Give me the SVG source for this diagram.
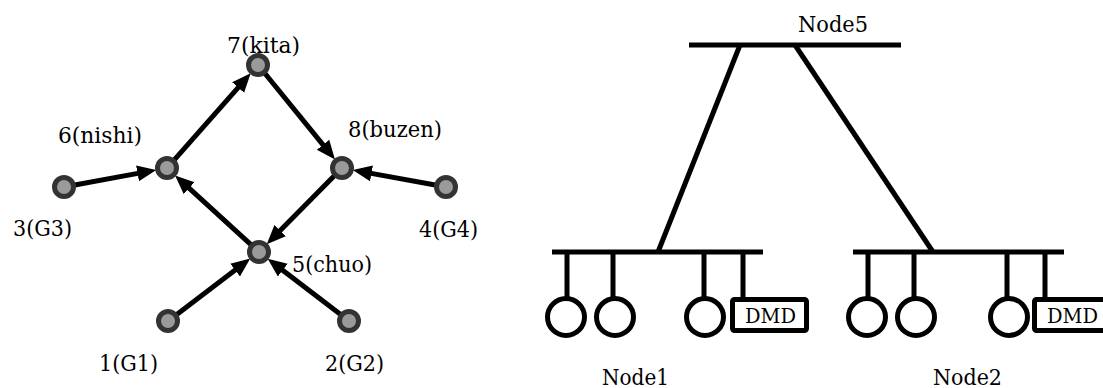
<svg xmlns="http://www.w3.org/2000/svg" width="1103" height="388" viewBox="0 0 1103 388">
  <style>
    text { font-family: 'DejaVu Serif', 'Liberation Serif', serif; font-size: 23px; fill: #000; }
    .small { font-size: 21px; }
    .vertex { fill: #9a9a9a; stroke: #333; stroke-width: 5; }
    .edge { stroke: #000; stroke-width: 5; fill: none; marker-end: url(#arrow); }
    .bus { stroke: #000; stroke-width: 5; fill: none; }
    .term { fill: #fff; stroke: #000; stroke-width: 5; }
  </style>
  <defs>
    <marker id="arrow" markerUnits="userSpaceOnUse" viewBox="0 -9 20 18" refX="3" refY="0" markerWidth="20" markerHeight="18" orient="auto">
      <path d="M0,-8 L19,0 L0,8 z" fill="#000"/>
    </marker>
  </defs>
  <rect width="1103" height="388" fill="#fff"/>

  <!-- directed graph: edges -->
  <g id="connectors">
    <line class="edge" x1="174.3" y1="159.8" x2="240.1" y2="85.3"/>
    <line class="edge" x1="265" y1="73.5" x2="324.9" y2="147.1"/>
    <line class="edge" x1="334.3" y1="175.8" x2="278.0" y2="232.8"/>
    <line class="edge" x1="250.9" y1="244.6" x2="186.9" y2="186.2"/>
    <line class="edge" x1="74.8" y1="185.0" x2="140.5" y2="172.9"/>
    <line class="edge" x1="435.2" y1="185.0" x2="368.5" y2="172.9"/>
    <line class="edge" x1="176.8" y1="314.4" x2="237.5" y2="268.3"/>
    <line class="edge" x1="340.3" y1="314.3" x2="280.4" y2="268.4"/>
    <!-- links between the bus bars -->
    <line class="bus" x1="740" y1="45" x2="658" y2="252"/>
    <line class="bus" x1="795" y1="45" x2="933" y2="252"/>
  </g>

  <!-- directed graph: vertices -->
  <g id="n7"><circle class="vertex" cx="258" cy="65" r="9.5"/><text x="227" y="53" textLength="73" lengthAdjust="spacingAndGlyphs">7(kita)</text></g>
  <g id="n6"><circle class="vertex" cx="167" cy="168" r="9.5"/><text x="58" y="143" textLength="84" lengthAdjust="spacingAndGlyphs">6(nishi)</text></g>
  <g id="n8"><circle class="vertex" cx="342" cy="168" r="9.5"/><text x="348" y="137" textLength="94" lengthAdjust="spacingAndGlyphs">8(buzen)</text></g>
  <g id="n3"><circle class="vertex" cx="64" cy="187" r="9.5"/><text x="13" y="236" textLength="59" lengthAdjust="spacingAndGlyphs">3(G3)</text></g>
  <g id="n4"><circle class="vertex" cx="446" cy="187" r="9.5"/><text x="419" y="237" textLength="59" lengthAdjust="spacingAndGlyphs">4(G4)</text></g>
  <g id="n5"><circle class="vertex" cx="259" cy="252" r="9.5"/><text x="292" y="272" textLength="80" lengthAdjust="spacingAndGlyphs">5(chuo)</text></g>
  <g id="n1"><circle class="vertex" cx="168" cy="321" r="9.5"/><text x="99" y="371" textLength="59" lengthAdjust="spacingAndGlyphs">1(G1)</text></g>
  <g id="n2"><circle class="vertex" cx="349" cy="321" r="9.5"/><text x="325" y="371" textLength="59" lengthAdjust="spacingAndGlyphs">2(G2)</text></g>

  <!-- bus topology -->
  <g id="node5">
    <line class="bus" x1="689" y1="45" x2="901" y2="45"/>
    <text x="798" y="32" textLength="70" lengthAdjust="spacingAndGlyphs">Node5</text>
  </g>

  <g id="node1">
    <line class="bus" x1="552" y1="252" x2="763" y2="252"/>
    <path class="bus" d="M567,252 V299 M613,252 V299 M704,252 V299 M743,252 V300"/>
    <circle class="term" cx="566" cy="317" r="18.5"/>
    <circle class="term" cx="615" cy="317" r="18.5"/>
    <circle class="term" cx="705" cy="317" r="18.5"/>
    <rect class="term" x="732.5" y="299.5" width="74" height="31" rx="2"/>
    <text class="small" x="745" y="323" textLength="51" lengthAdjust="spacingAndGlyphs">DMD</text>
    <text x="602" y="385" textLength="67" lengthAdjust="spacingAndGlyphs">Node1</text>
  </g>

  <g id="node2">
    <line class="bus" x1="853" y1="252" x2="1064" y2="252"/>
    <path class="bus" d="M868,252 V299 M914,252 V299 M1007,252 V299 M1045,252 V300"/>
    <circle class="term" cx="867" cy="317" r="18.5"/>
    <circle class="term" cx="916" cy="317" r="18.5"/>
    <circle class="term" cx="1009" cy="317" r="18.5"/>
    <rect class="term" x="1034.5" y="299.5" width="74" height="31" rx="2"/>
    <text class="small" x="1047" y="323" textLength="51" lengthAdjust="spacingAndGlyphs">DMD</text>
    <text x="933" y="385" textLength="69" lengthAdjust="spacingAndGlyphs">Node2</text>
  </g>
</svg>
